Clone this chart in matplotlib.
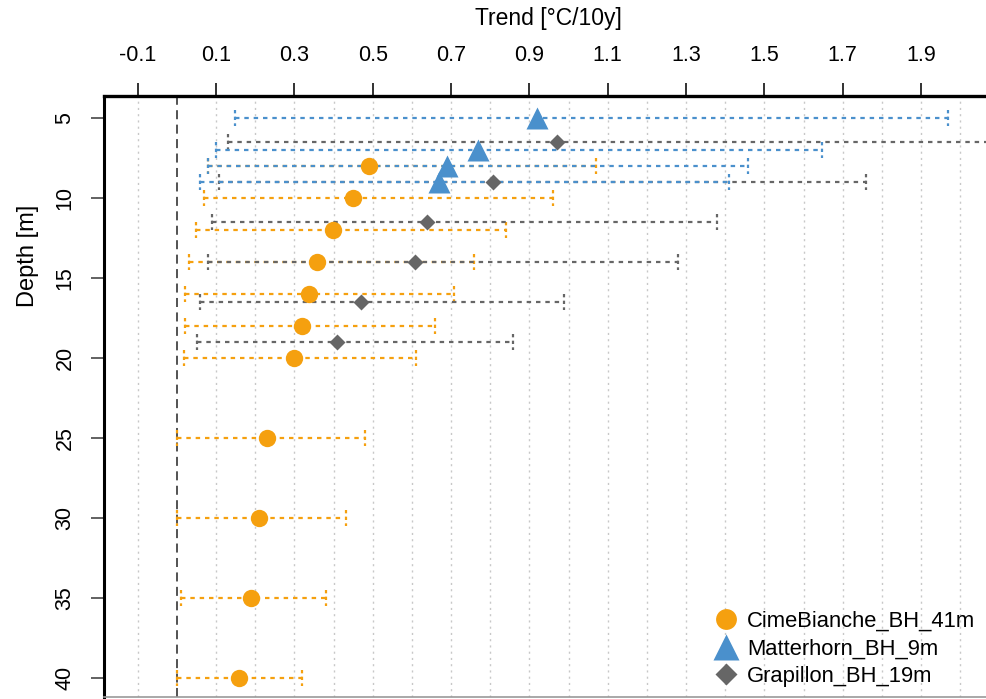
import matplotlib
matplotlib.use("Agg")
import matplotlib.pyplot as plt
import numpy as np
from matplotlib.lines import Line2D

plt.rcParams['font.family'] = ['Liberation Sans', 'DejaVu Sans']

# ---- data ----
cb_depth = [8, 10, 12, 14, 16, 18, 20, 25, 30, 35, 40]
cb_trend = [0.489, 0.449, 0.399, 0.358, 0.338, 0.318, 0.300, 0.229, 0.209, 0.189, 0.159]
cb_lo    = [0.080, 0.070, 0.049, 0.030, 0.020, 0.020, 0.019, 0.000, 0.000, 0.009, 0.000]
cb_hi    = [1.069, 0.959, 0.839, 0.759, 0.708, 0.659, 0.610, 0.480, 0.431, 0.381, 0.320]

mh_depth = [5, 7, 8, 9]
mh_trend = [0.920, 0.768, 0.689, 0.669]
mh_lo    = [0.148, 0.100, 0.078, 0.059]
mh_hi    = [1.969, 1.648, 1.458, 1.409]

gp_depth = [6.5, 9, 11.5, 14, 16.5, 19]
gp_trend = [0.970, 0.808, 0.639, 0.609, 0.469, 0.408]
gp_lo    = [0.130, 0.108, 0.089, 0.078, 0.059, 0.050]
gp_hi    = [2.200, 1.759, 1.379, 1.279, 0.989, 0.859]

x_ticks = [-0.1, 0.1, 0.3, 0.5, 0.7, 0.9, 1.1, 1.3, 1.5, 1.7, 1.9]
y_ticks = [5, 10, 15, 20, 25, 30, 35, 40]

labels = ['CimeBianche_BH_41m', 'Matterhorn_BH_9m', 'Grapillon_BH_19m']
c_orange = '#F5A00F'
c_blue = '#4A90CC'
c_gray = '#666666'

W, H = 986, 699
fig = plt.figure(figsize=(W / 100, H / 100), dpi=100)
left_px, right_px, top_px, bot_px = 104, 986, 96, 697
ax = fig.add_axes([left_px / W, 1 - bot_px / H, (right_px - left_px) / W, (bot_px - top_px) / H])

ax.set_xlim(-0.1865, 2.066)
ax.set_ylim(41.19, 3.625)

# grid
for gx in np.arange(-0.1, 2.05, 0.1):
    if abs(gx) < 1e-9:
        continue
    ax.axvline(gx, color='#c8c8c8', lw=1.0, ls=(0, (1.5, 3)), zorder=0)
ax.axvline(0, color='#444444', lw=1.3, ls=(0, (5, 3)), zorder=1)

dot = (0, (2, 2.2))
cap = 0.5

def draw_err(depths, lo, hi, color, z):
    for d, l, h in zip(depths, lo, hi):
        ax.plot([l, h], [d, d], color=color, lw=1.6, ls=dot, zorder=z)
        ax.plot([l, l], [d - cap, d + cap], color=color, lw=1.6, ls=(0, (1.5, 1.5)), zorder=z)
        ax.plot([h, h], [d - cap, d + cap], color=color, lw=1.6, ls=(0, (1.5, 1.5)), zorder=z)

draw_err(cb_depth, cb_lo, cb_hi, c_orange, 2)
draw_err(gp_depth, gp_lo, gp_hi, c_gray, 3)
draw_err(mh_depth, mh_lo, mh_hi, c_blue, 4)

ax.plot(cb_trend, cb_depth, 'o', color=c_orange, ms=12.5, mec='none', zorder=5)
ax.plot(gp_trend, gp_depth, 'D', color=c_gray, ms=8.5, mec='none', zorder=6)
ax.plot(mh_trend, mh_depth, '^', color=c_blue, ms=16, mec='none', zorder=7)

# axes styling
ax.xaxis.tick_top()
ax.set_xticks(x_ticks)
ax.set_xticklabels([f'{v:.1f}' for v in x_ticks])
ax.set_yticks(y_ticks)
ax.set_yticklabels([str(v) for v in y_ticks], rotation=90, va='center')
ax.tick_params(axis='x', which='major', length=9.5, width=1.3, pad=12, labelsize=15.5, color='#222222')
ax.tick_params(axis='y', which='major', length=9.5, width=1.3, pad=11, labelsize=15.5, color='#555555')
ax.spines['top'].set_linewidth(2.4)
ax.spines['left'].set_linewidth(2.2)
ax.spines['right'].set_visible(False)
ax.spines['bottom'].set_color('#999999')
ax.spines['bottom'].set_linewidth(1.2)

fig.text(548 / W, 1 - 18 / H, 'Trend [°C/10y]', ha='center', va='center', fontsize=16.5)
fig.text(28 / W, 1 - 256 / H, 'Depth [m]', ha='center', va='center', rotation=90, fontsize=17)

handles = [
    Line2D([], [], marker='o', ls='none', color=c_orange, ms=15, mec='none'),
    Line2D([], [], marker='^', ls='none', color=c_blue, ms=19, mec='none'),
    Line2D([], [], marker='D', ls='none', color=c_gray, ms=11, mec='none'),
]
fig.legend(handles, labels, loc='upper left', bbox_to_anchor=(714 / W, 1 - 611 / H),
           frameon=False, fontsize=15.8, handlelength=1.1, handletextpad=0.4,
           labelspacing=0.3, borderpad=0, borderaxespad=0)

fig.savefig('out.png', dpi=100)
